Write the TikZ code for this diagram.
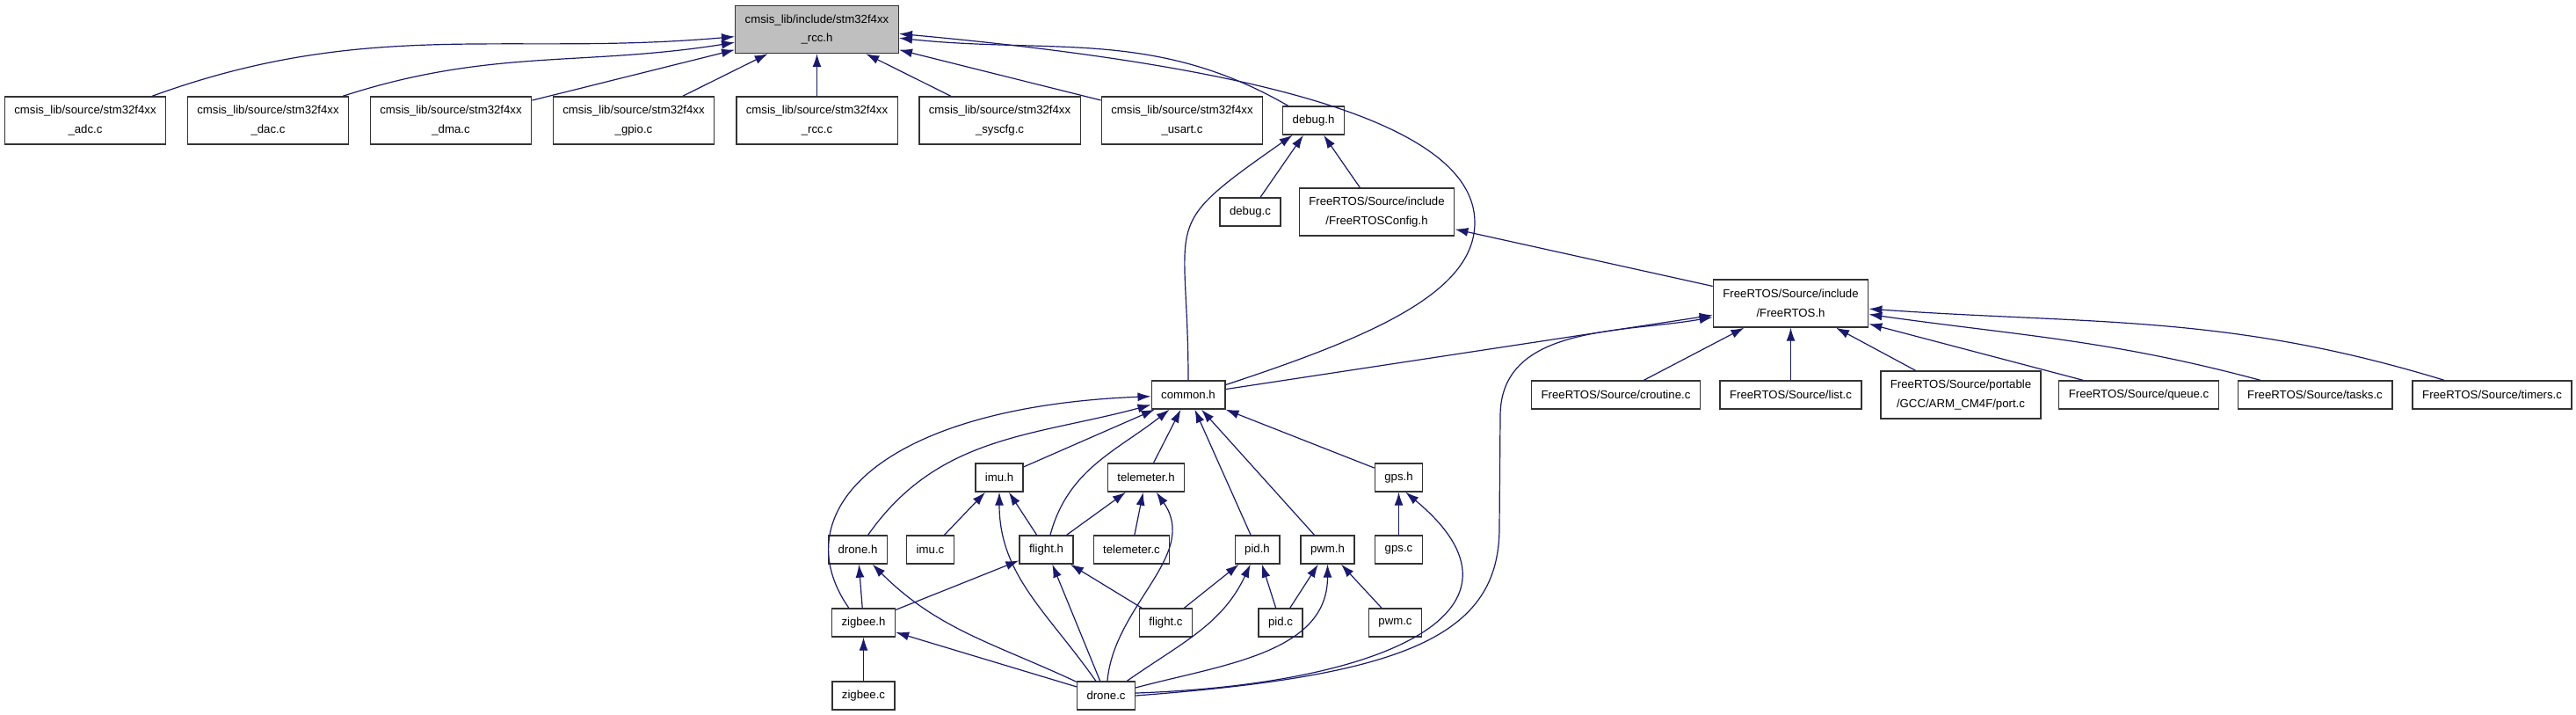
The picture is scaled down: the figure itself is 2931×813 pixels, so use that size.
\documentclass[tikz,border=0pt]{standalone}
\usepackage{fontspec}
\setmainfont{Liberation Sans}
\usepackage{xcolor}
\usetikzlibrary{arrows.meta}

\definecolor{edgeblue}{HTML}{191970}
\definecolor{boxgray}{HTML}{BFBFBF}

\tikzset{
  file/.style={draw=black!80, line width=1.4pt, fill=white,
    font=\fontsize{13.2}{21.5}\selectfont, align=center,
    inner xsep=11pt, inner ysep=3pt, minimum height=32pt},
  file2/.style={file, minimum height=54pt},
  dep/.style={draw=edgeblue, line width=1.2pt, -{Latex[length=15pt,width=10pt]}}
}

\begin{document}
\begin{tikzpicture}[x=1pt, y=1pt]
        \useasboundingbox (0,0) rectangle (2931,813);

        % The header that everything includes
        \node[file2, fill=boxgray] (rcch) at (929.5,779.5) {cmsis\_lib/include/stm32f4xx\\\_rcc.h};

        % Driver sources
        \node[file2] (adc) at (97,676) {cmsis\_lib/source/stm32f4xx\\\_adc.c};
        \node[file2] (dac) at (305,676) {cmsis\_lib/source/stm32f4xx\\\_dac.c};
        \node[file2] (dma) at (513,676) {cmsis\_lib/source/stm32f4xx\\\_dma.c};
        \node[file2] (gpio) at (721,676) {cmsis\_lib/source/stm32f4xx\\\_gpio.c};
        \node[file2] (rccc) at (929.5,676) {cmsis\_lib/source/stm32f4xx\\\_rcc.c};
        \node[file2] (syscfg) at (1137.5,676) {cmsis\_lib/source/stm32f4xx\\\_syscfg.c};
        \node[file2] (usart) at (1345,676) {cmsis\_lib/source/stm32f4xx\\\_usart.c};
        \node[file] (debugh) at (1494.5,676) {debug.h};

        \node[file] (debugc) at (1422.5,572) {debug.c};
        \node[file2] (config) at (1566.5,572) {FreeRTOS/Source/include\\/FreeRTOSConfig.h};

        % FreeRTOS kernel
        \node[file2] (frtos) at (2037.5,468) {FreeRTOS/Source/include\\/FreeRTOS.h};
        \node[file] (common) at (1352,364) {common.h};
        \node[file] (croutine) at (1838.5,364) {FreeRTOS/Source/croutine.c};
        \node[file] (list) at (2037.5,364) {FreeRTOS/Source/list.c};
        \node[file2] (port) at (2231,364) {FreeRTOS/Source/portable\\/GCC/ARM\_CM4F/port.c};
        \node[file] (queue) at (2433.5,364) {FreeRTOS/Source/queue.c};
        \node[file] (tasks) at (2634,364) {FreeRTOS/Source/tasks.c};
        \node[file] (timers) at (2835.5,364) {FreeRTOS/Source/timers.c};

        % Drone modules
        \node[file] (imuh) at (1137,270) {imu.h};
        \node[file] (telemh) at (1304,270) {telemeter.h};
        \node[file] (gpsh) at (1591.5,270) {gps.h};

        \node[file] (droneh) at (976,188) {drone.h};
        \node[file] (imuc) at (1058.5,188) {imu.c};
        \node[file] (flighth) at (1190.5,188) {flight.h};
        \node[file] (telemc) at (1287.5,188) {telemeter.c};
        \node[file] (pidh) at (1430.5,188) {pid.h};
        \node[file] (pwmh) at (1510.5,188) {pwm.h};
        \node[file] (gpsc) at (1591.5,188) {gps.c};

        \node[file] (zigbeeh) at (982.5,105) {zigbee.h};
        \node[file] (flightc) at (1326.5,105) {flight.c};
        \node[file] (pidc) at (1457,105) {pid.c};
        \node[file] (pwmc) at (1587.5,105) {pwm.c};

        \node[file] (zigbeec) at (982.5,22) {zigbee.c};
        \node[file] (dronec) at (1258.5,22) {drone.c};

        % Includes of stm32f4xx_rcc.h
        \draw[dep] (adc) to[out=20, in=185] (rcch);
        \draw[dep] (dac) to[out=18, in=189] (rcch);
        \draw[dep] (dma) -- (rcch);
        \draw[dep] (gpio) -- (rcch);
        \draw[dep] (rccc) -- (rcch);
        \draw[dep] (syscfg) -- (rcch);
        \draw[dep] (usart) -- (rcch);
        \draw[dep] (debugh) to[out=150, in=-6] (rcch);
        \draw[dep] (common.15) .. controls (1560,430) and (1678,480) .. (1678,560)
                   .. controls (1678,680) and (1400,740) .. (rcch.-3);

        % Includes of debug.h
        \draw[dep] (common) to[out=90, in=215, looseness=1.6] (debugh);
        \draw[dep] (debugc) -- (debugh);
        \draw[dep] (config) -- (debugh);

        % Includes of FreeRTOS.h
        \draw[dep] (frtos) -- (config);
        \draw[dep] (common) -- (frtos);
        \draw[dep] (croutine) -- (frtos);
        \draw[dep] (list) -- (frtos);
        \draw[dep] (port) -- (frtos);
        \draw[dep] (queue) -- (frtos);
        \draw[dep] (tasks) to[out=165, in=-8] (frtos);
        \draw[dep] (timers) to[out=163, in=-4] (frtos);
        \draw[dep] (dronec.east) .. controls (1600,45) and (1706,90) .. (1706,213)
                   -- (1707,340) to[out=90, in=190] (frtos);

        % Includes of common.h
        \draw[dep] (droneh) to[out=55, in=195] (common);
        \draw[dep] (zigbeeh.135) .. controls (890,230) and (1000,350) .. (common);
        \draw[dep] (imuh) -- (common);
        \draw[dep] (flighth) to[out=75, in=218] (common);
        \draw[dep] (telemh) -- (common);
        \draw[dep] (pidh) -- (common);
        \draw[dep] (pwmh) -- (common);
        \draw[dep] (gpsh) -- (common);

        % Includes of the module headers
        \draw[dep] (imuc) -- (imuh);
        \draw[dep] (flighth) -- (imuh);
        \draw[dep] (dronec) to[out=125, in=-90] (imuh);
        \draw[dep] (flighth) -- (telemh);
        \draw[dep] (telemc) -- (telemh);
        \draw[dep] (dronec) to[out=85, in=-55] (telemh);
        \draw[dep] (gpsc) -- (gpsh);
        \draw[dep] (dronec.5) .. controls (1580,35) and (1760,120) .. (gpsh.-65);
        \draw[dep] (zigbeeh) -- (droneh);
        \draw[dep] (dronec) to[out=155, in=-45] (droneh);
        \draw[dep] (zigbeeh) -- (flighth);
        \draw[dep] (flightc) -- (flighth);
        \draw[dep] (dronec) -- (flighth);
        \draw[dep] (flightc) -- (pidh);
        \draw[dep] (pidc) -- (pidh);
        \draw[dep] (dronec) to[out=35, in=-115] (pidh);
        \draw[dep] (pidc) -- (pwmh);
        \draw[dep] (pwmc) -- (pwmh);
        \draw[dep] (dronec) to[out=15, in=-90] (pwmh);
        \draw[dep] (zigbeec) -- (zigbeeh);
        \draw[dep] (dronec) -- (zigbeeh);
\end{tikzpicture}
\end{document}
